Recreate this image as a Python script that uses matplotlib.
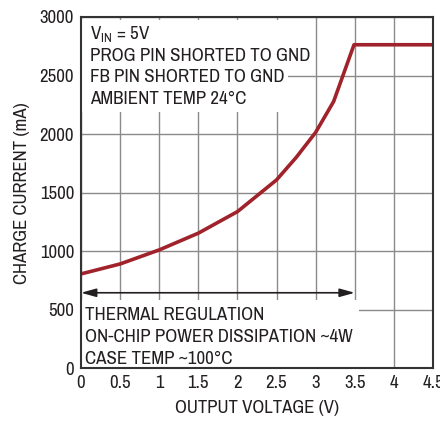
import matplotlib
matplotlib.use("Agg")
import matplotlib.pyplot as plt
from matplotlib.patches import Rectangle

plt.rcParams['font.family'] = ['Archivo Narrow', 'Roboto Condensed', 'DejaVu Sans']
plt.rcParams['mathtext.default'] = 'regular'

voltage = [0.0, 0.5, 1.0, 1.5, 2.0, 2.5, 2.75, 3.0, 3.23, 3.49, 4.5]
current = [806, 891, 1011, 1154, 1338, 1609, 1800, 2015, 2279, 2763, 2763]

x_ticks = [0, 0.5, 1, 1.5, 2, 2.5, 3, 3.5, 4, 4.5]
x_labels = ['0', '0.5', '1', '1.5', '2', '2.5', '3', '3.5', '4', '4.5']
y_ticks = [0, 500, 1000, 1500, 2000, 2500, 3000]

top_notes = [r'V$_{IN}$ = 5V', 'PROG PIN SHORTED TO GND', 'FB PIN SHORTED TO GND', 'AMBIENT TEMP 24°C']
bottom_notes = ['THERMAL REGULATION', 'ON-CHIP POWER DISSIPATION ~4W', 'CASE TEMP ~100°C']
arrow_span = (0.0, 3.5)
arrow_level = 645

fig = plt.figure(figsize=(4.4, 4.23), dpi=100)
ax = fig.add_axes([81/440, 1-368.3/423, 352/440, 351.3/423])

ax.plot(voltage, current, color='#a0222a', lw=2.6, zorder=5, solid_capstyle='butt')
ax.set_xlim(0, 4.5)
ax.set_ylim(0, 3000)
ax.set_xticks(x_ticks)
ax.set_xticklabels(x_labels)
ax.set_yticks(y_ticks)
ax.tick_params(length=0, labelsize=13.5, pad=5, colors='#231f20')
ax.grid(True, color='#8a8a8a', lw=1.0, zorder=1)
ax.set_axisbelow(True)
for s in ax.spines.values():
    s.set_color('#333333')
    s.set_linewidth(1.5)
    s.set_zorder(6)

ax.set_xlabel('OUTPUT VOLTAGE (V)', fontsize=13.5, color='#231f20', labelpad=6)
ax.set_ylabel('CHARGE CURRENT (mA)', fontsize=13.5, color='#231f20', labelpad=7)

# white masks behind annotation text
ax.add_patch(Rectangle((0, 2185), 2.65, 790, facecolor='white', edgecolor='none', zorder=2))
ax.add_patch(Rectangle((0, 2565), 2.9, 250, facecolor='white', edgecolor='none', zorder=2))
ax.add_patch(Rectangle((0, 0), 3.55, 585, facecolor='white', edgecolor='none', zorder=2))

trans = ax.transAxes
top_y = [1 - (34-17)/351.3, 1 - (56.5-17)/351.3, 1 - (77-17)/351.3, 1 - (99-17)/351.3]
for t, yy in zip(top_notes, top_y):
    ax.text(9/352, yy, t, transform=trans, fontsize=13.6, color='#231f20', va='center', ha='left', zorder=4)

bot_y = [(368.3-315)/351.3, (368.3-337)/351.3, (368.3-359)/351.3]
for t, yy in zip(bottom_notes, bot_y):
    ax.text(4/352, yy, t, transform=trans, fontsize=13.6, color='#231f20', va='center', ha='left', zorder=4)

ax.annotate('', xy=(arrow_span[1], arrow_level), xytext=(arrow_span[0], arrow_level),
            arrowprops=dict(arrowstyle='<|-|>,head_length=0.9,head_width=0.25', color='#231f20', lw=1.2,
                            shrinkA=0, shrinkB=0), zorder=4)

fig.savefig('out.png', dpi=100)
